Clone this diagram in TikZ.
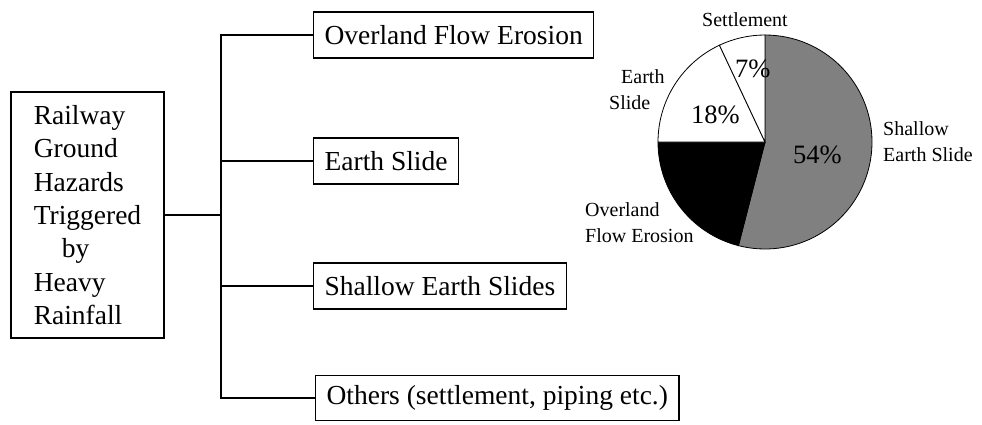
\documentclass[tikz,border=0pt]{standalone}
\usepackage{fontspec}
\setmainfont{Liberation Serif}
\begin{document}
\begin{tikzpicture}[x=1pt,y=-1pt,
  boxtext/.style={font=\fontsize{27.5}{33.3}\selectfont},
  hazard/.style={draw,line width=1.2pt,boxtext,anchor=west,inner xsep=11pt,
    minimum height=46pt,inner ysep=0pt},
  link/.style={line width=1.6pt},
  slice/.style={draw,line width=0.8pt},
  pielabel/.style={font=\fontsize{20}{26}\selectfont,inner sep=0pt},
  pct/.style={font=\fontsize{26.5}{30}\selectfont,inner sep=0pt,anchor=base west}]
\definecolor{shallowgray}{gray}{0.5}
\useasboundingbox (0,0) rectangle (982,424);

% root box
\node[draw,line width=1.2pt,boxtext,align=left,minimum width=153pt,
  minimum height=246pt,inner sep=0pt] (main) at (87.5,215)
  {Railway\\Ground\\Hazards\\Triggered\\\hspace*{28pt}by\\Heavy\\Rainfall};

% hazard categories
\node[hazard] (a) at (313,35) {Overland Flow Erosion};
\node[hazard] (b) at (313,161) {Earth Slide};
\node[hazard] (c) at (313,286) {Shallow Earth Slides};
\node[hazard,minimum height=45pt] (d) at (315,398) {Others (settlement, piping etc.)};

% tree connectors
\coordinate (trunk) at (221,0);
\draw[link] (a.west) -- (a.west -| trunk) -- (d.west -| trunk) -- (d.west);
\draw[link] (b.west) -- (b.west -| trunk);
\draw[link] (c.west) -- (c.west -| trunk);
\draw[link] (main.east) -- (main.east -| trunk);

% pie chart (y axis points down, so angles run clockwise on the page)
\coordinate (pc) at (765,142);
\filldraw[slice,fill=shallowgray] (pc) -- ++(-90:107) arc[start angle=-90,end angle=104.4,radius=107] -- cycle;
\filldraw[slice,fill=black] (pc) -- ++(104.4:107) arc[start angle=104.4,end angle=180,radius=107] -- cycle;
\filldraw[slice,fill=white] (pc) -- ++(180:107) arc[start angle=180,end angle=244.8,radius=107] -- cycle;
\filldraw[slice,fill=white] (pc) -- ++(244.8:107) arc[start angle=244.8,end angle=270,radius=107] -- cycle;

% slice labels (base anchor sits on the last line)
\node[pielabel,anchor=base] (ls) at (745,26) {Settlement};
\node[pielabel,anchor=base west,align=left] (le) at (609,109) {\hspace*{12pt}Earth\\Slide};
\node[pielabel,anchor=base west,align=left] (lsh) at (883,161) {Shallow\\Earth Slide};
\node[pielabel,anchor=base west,align=left] (lo) at (585,242) {Overland\\Flow Erosion};

\node[pct] (p7) at (735,77) {7\%};
\node[pct] (p18) at (691,123) {18\%};
\node[pct] (p54) at (793,163) {54\%};
\end{tikzpicture}
\end{document}
